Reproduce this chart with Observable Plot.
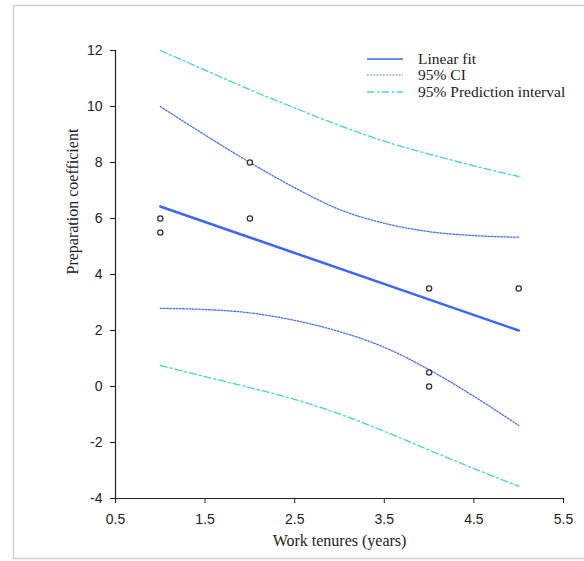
<!DOCTYPE html>
<html>
<head>
<meta charset="utf-8">
<script src="https://cdn.jsdelivr.net/npm/d3@7"></script>
<script src="https://cdn.jsdelivr.net/npm/@observablehq/plot@0.6"></script>
<style>
  html, body { margin: 0; padding: 0; background: white; }
  #chart { width: 584px; height: 561px; }
</style>
</head>
<body>
<div id="chart"></div>
<script>
// Observed data points
const pointX = [1, 1, 2, 2, 4, 4, 4, 5];
const pointY = [6, 5.5, 8, 6, 3.5, 0.5, 0, 3.5];

// Linear fit (end points)
const fitX = [1, 5];
const fitY = [6.43, 2.0];

// Band curves
const bandX = [1, 1.5, 2, 2.5, 3, 3.5, 4, 4.5, 5];
const ciUpper = [10, 8.98, 8.0, 7.1, 6.32, 5.83, 5.53, 5.39, 5.33];
const ciLower = [2.79, 2.75, 2.63, 2.36, 1.96, 1.4, 0.6, -0.35, -1.39];
const piUpper = [12, 11.3, 10.6, 9.95, 9.32, 8.76, 8.3, 7.88, 7.5];
const piLower = [0.75, 0.35, -0.04, -0.46, -0.98, -1.6, -2.27, -2.93, -3.56];

// Ticks
const xTicks = [0.5, 1.5, 2.5, 3.5, 4.5, 5.5];
const yTicks = [-4, -2, 0, 2, 4, 6, 8, 10, 12];

// Legend entries
const legendLabels = ["Linear fit", "95% CI", "95% Prediction interval"];

const fitColor = "#3d66f5";
const ciColor = "#4c6ef5";
const piColor = "#45d3cf";
const serif = "'Liberation Serif', 'Times New Roman', serif";

const points = pointX.map((x, i) => ({x, y: pointY[i]}));
const fit = fitX.map((x, i) => ({x, y: fitY[i]}));
const mk = arr => bandX.map((x, i) => ({x, y: arr[i]}));

const plot = Plot.plot({
  width: 584,
  height: 561,
  marginLeft: 115,
  marginRight: 21,
  marginTop: 50,
  marginBottom: 63,
  x: {domain: [0.5, 5.5]},
  y: {domain: [-4, 12]},
  style: {fontFamily: "'Liberation Sans', Arial, sans-serif", fontSize: "14px", background: "white", color: "#222"},
  marks: [
    Plot.line(mk(piUpper), {x: "x", y: "y", stroke: piColor, strokeWidth: 1.3, strokeDasharray: "7,3,2,3", curve: "monotone-x"}),
    Plot.line(mk(piLower), {x: "x", y: "y", stroke: piColor, strokeWidth: 1.3, strokeDasharray: "7,3,2,3", curve: "monotone-x"}),
    Plot.line(mk(ciUpper), {x: "x", y: "y", stroke: ciColor, strokeWidth: 1.3, strokeDasharray: "1.6,1.6", curve: "monotone-x"}),
    Plot.line(mk(ciLower), {x: "x", y: "y", stroke: ciColor, strokeWidth: 1.3, strokeDasharray: "1.6,1.6", curve: "monotone-x"}),
    Plot.line(fit, {x: "x", y: "y", stroke: fitColor, strokeWidth: 2.5}),
    Plot.dot(points, {x: "x", y: "y", r: 2.6, stroke: "#333", strokeWidth: 1.3, fill: "white"}),
    Plot.ruleX([0.5], {stroke: "#222", strokeWidth: 1.2}),
    Plot.ruleY([-4], {stroke: "#222", strokeWidth: 1.2}),
    Plot.axisX({ticks: xTicks, tickSize: 5, tickPadding: 11, tickFormat: d => d.toFixed(1), label: null}),
    Plot.axisY({ticks: yTicks, tickSize: 5, tickPadding: 8, tickFormat: d => String(d), label: null}),
    Plot.text(["Work tenures (years)"], {frameAnchor: "bottom", dy: 47, fontFamily: serif, fontSize: 16, fill: "#222"}),
    Plot.text(["Preparation coefficient"], {frameAnchor: "left", dx: -43, rotate: -90, fontFamily: serif, fontSize: 16, fill: "#222"})
  ]
});

// Outer frame and legend (decoration)
const svg = d3.select(plot);
svg.insert("rect", ":first-child")
  .attr("x", 13.5).attr("y", 5.5).attr("width", 600).attr("height", 553)
  .attr("fill", "white").attr("stroke", "#cfcfcf").attr("stroke-width", 1.5);

const legend = svg.append("g").attr("text-anchor", "start");
const rowsY = [59, 75, 92];
const styles = [
  {stroke: fitColor, w: 1.6, dash: null},
  {stroke: ciColor, w: 1.2, dash: "1.6,1.6"},
  {stroke: piColor, w: 1.3, dash: "7,3,2,3"}
];
legendLabels.forEach((lab, i) => {
  const s = styles[i];
  const ln = legend.append("line")
    .attr("x1", 367).attr("x2", 403).attr("y1", rowsY[i]).attr("y2", rowsY[i])
    .attr("stroke", s.stroke).attr("stroke-width", s.w);
  if (s.dash) ln.attr("stroke-dasharray", s.dash);
  legend.append("text")
    .attr("x", 418).attr("y", rowsY[i]).attr("dy", "0.35em")
    .attr("text-anchor", "start")
    .attr("font-family", serif)
    .attr("font-size", 15.5).attr("fill", "#222")
    .text(lab);
});

document.getElementById("chart").appendChild(plot);
</script>
</body>
</html>
